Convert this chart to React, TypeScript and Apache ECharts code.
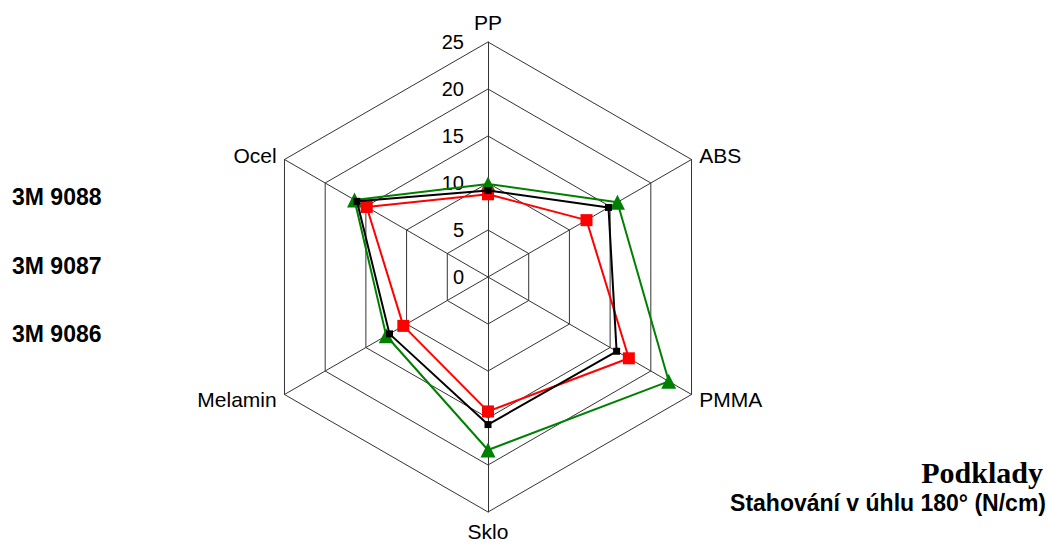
import React, { useEffect, useRef } from "react";
import * as echarts from "echarts";

const indicatorNames = ["PP", "Ocel", "Melamin", "Sklo", "PMMA", "ABS"];
const maxValue = 25;
const tickInterval = 5;

const seriesNames = ["3M 9086", "3M 9087", "3M 9088"];
// values in the order of indicatorNames
const values9086 = [9.9, 16.4, 12.5, 18.4, 22.2, 15.9];
const values9087 = [8.8, 14.9, 10.4, 14.3, 17.3, 12.1];
const values9088 = [9.2, 16.1, 12.1, 15.7, 15.8, 14.8];
const legendOrder = ["3M 9088", "3M 9087", "3M 9086"];

const titleText = "Podklady";
const subtitleText = "Stahování v úhlu 180° (N/cm)";

export default function App() {
  const ref = useRef<HTMLDivElement>(null);
  useEffect(() => {
    document.body.style.margin = "0";
    if (!ref.current) return;
    const chart = echarts.init(ref.current, undefined, { renderer: "svg" });
    const font = "Arial, 'Liberation Sans', sans-serif";
    chart.setOption({
      animation: false,
      backgroundColor: "#ffffff",
      title: [
        {
          text: titleText,
          right: 6,
          top: 452,
          textStyle: {
            fontFamily: "'Liberation Serif', 'Times New Roman', serif",
            fontWeight: "bold",
            fontSize: 30,
            color: "#000",
          },
        },
        {
          text: subtitleText,
          right: 3,
          top: 486,
          textStyle: {
            fontFamily: font,
            fontWeight: "bold",
            fontSize: 23,
            color: "#000",
          },
        },
      ],
      legend: {
        data: legendOrder,
        orient: "vertical",
        left: 1,
        top: 180,
        icon: "none",
        itemWidth: 1,
        itemHeight: 24,
        itemGap: 45,
        selectedMode: false,
        textStyle: {
          fontFamily: font,
          fontWeight: "bold",
          fontSize: 23,
          color: "#000",
        },
      },
      radar: {
        center: [488, 277],
        radius: 235,
        startAngle: 90,
        splitNumber: maxValue / tickInterval,
        shape: "polygon",
        nameGap: 9,
        axisName: {
          color: "#000",
          fontFamily: font,
          fontSize: 21,
        },
        indicator: indicatorNames.map((name, i) => ({
          name,
          min: 0,
          max: maxValue,
          ...(i === 0
            ? {
                axisLabel: {
                  show: true,
                  color: "#000",
                  fontFamily: font,
                  fontSize: 20,
                  margin: 24,
                },
              }
            : {}),
        })),
        axisLabel: { show: false },
        axisTick: { show: false },
        axisLine: { lineStyle: { color: "#333", width: 1 } },
        splitLine: { lineStyle: { color: "#333", width: 1 } },
        splitArea: { show: false },
      },
      series: [
        {
          type: "radar",
          z: 2,
          data: [
            {
              name: seriesNames[0],
              value: values9086,
              symbol: "triangle",
              symbolSize: 15,
              itemStyle: { color: "#008000" },
              lineStyle: { color: "#008000", width: 2 },
            },
          ],
        },
        {
          type: "radar",
          z: 3,
          data: [
            {
              name: seriesNames[1],
              value: values9087,
              symbol: "rect",
              symbolSize: 12,
              itemStyle: { color: "#ff0000" },
              lineStyle: { color: "#ff0000", width: 2 },
            },
          ],
        },
        {
          type: "radar",
          z: 4,
          data: [
            {
              name: seriesNames[2],
              value: values9088,
              symbol: "rect",
              symbolSize: 7,
              itemStyle: { color: "#000000" },
              lineStyle: { color: "#000000", width: 2 },
            },
          ],
        },
      ],
    });
    return () => chart.dispose();
  }, []);
  return <div ref={ref} style={{ width: 1054, height: 544 }} />;
}
